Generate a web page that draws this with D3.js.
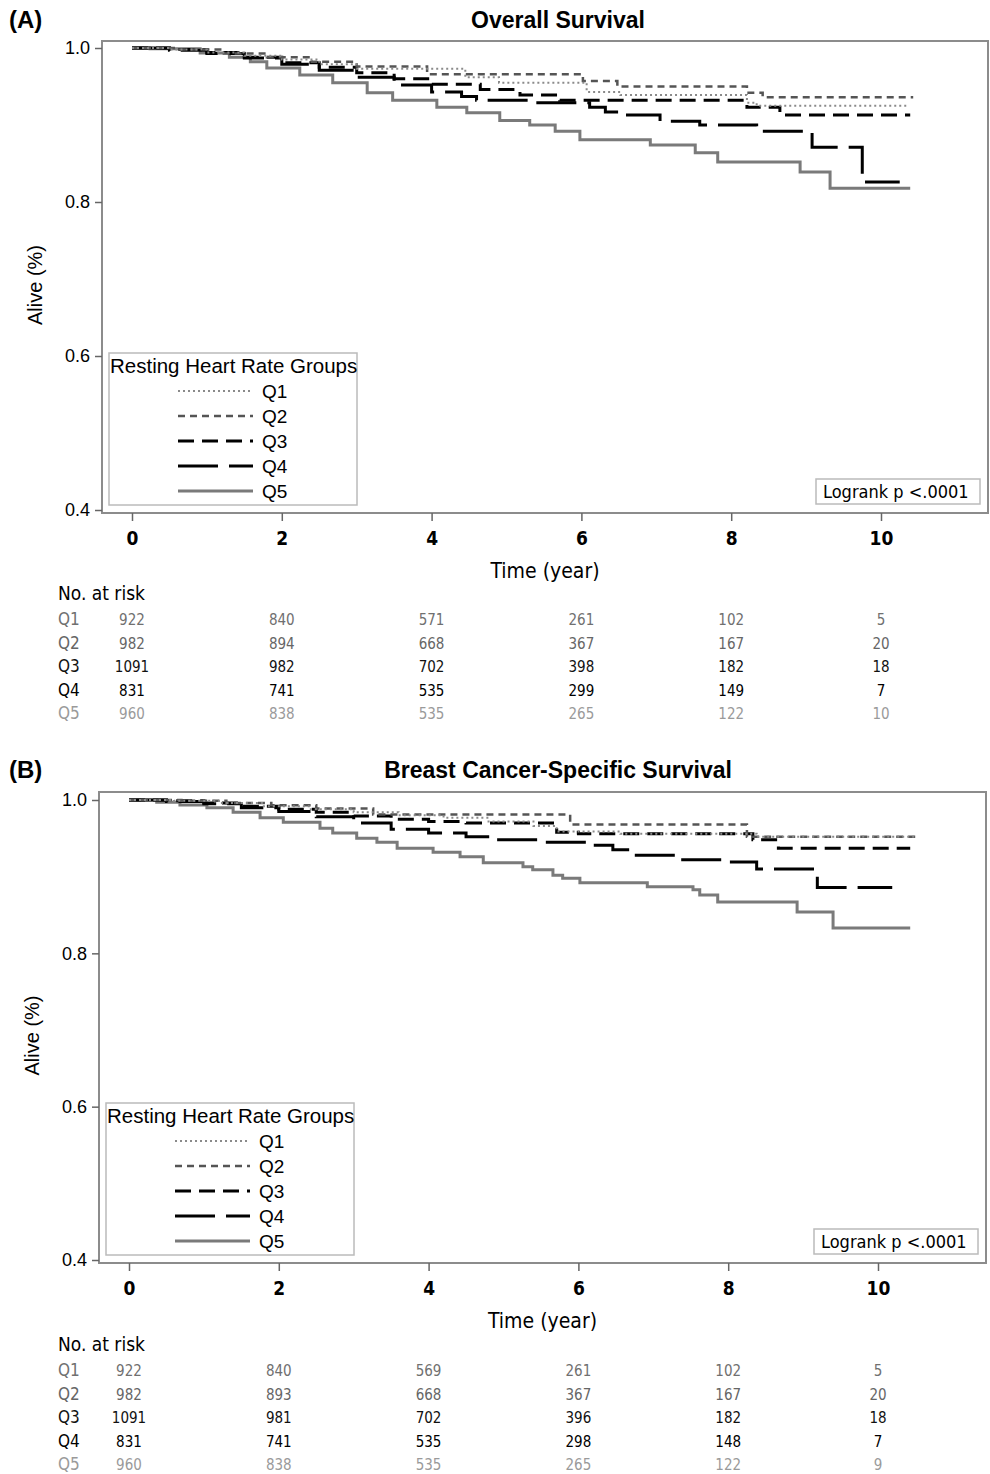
<!DOCTYPE html>
<html>
<head>
<meta charset="utf-8">
<script src="https://cdn.jsdelivr.net/npm/d3@7"></script>
<style>
  body { margin: 0; background: #fff; }
  svg { display: block; font-family: Arial, "Liberation Sans", sans-serif; }
  .narrow { font-family: "Liberation Sans Narrow", "Arial Narrow", "DejaVu Sans Condensed", Arial, sans-serif; }
</style>
</head>
<body>
<div id="chart"></div>
<script>
// Kaplan-Meier steps: [time (year), survival]
const groups = ['Q1', 'Q2', 'Q3', 'Q4', 'Q5'];
const timeTicks = [0, 2, 4, 6, 8, 10];
const survTicks = [0.4, 0.6, 0.8, 1.0];

const osQ1 = [[0,1],[0.5,0.998],[1.0,0.994],[1.5,0.99],[2.0,0.985],[2.5,0.979],[3.0,0.973],[4.45,0.962],[4.9,0.955],[6.07,0.943],[6.52,0.939],[8.21,0.929],[8.34,0.925],[10.35,0.925]];
const osQ2 = [[0,1],[0.6,0.998],[1.2,0.993],[1.8,0.988],[2.4,0.982],[3.0,0.976],[3.94,0.966],[6.02,0.957],[6.48,0.95],[8.21,0.942],[8.42,0.936],[10.43,0.936]];
const osQ3 = [[0,1],[0.5,0.998],[1.0,0.994],[1.5,0.988],[2.0,0.981],[2.5,0.975],[3.0,0.968],[3.5,0.96],[4.0,0.953],[4.65,0.946],[5.18,0.939],[5.71,0.932],[8.21,0.923],[8.65,0.913],[10.39,0.913]];
const osQ4 = [[0,1],[0.5,0.997],[1.0,0.993],[1.5,0.987],[2.0,0.979],[2.5,0.971],[3.0,0.962],[3.5,0.952],[4.0,0.943],[4.4,0.937],[4.6,0.932],[5.35,0.929],[6.11,0.923],[6.32,0.917],[6.58,0.913],[7.05,0.905],[7.58,0.9],[8.34,0.892],[9.08,0.871],[9.75,0.826],[10.25,0.826]];
const osQ5 = [[0,1],[0.24,0.999],[0.91,0.9935],[1.3,0.988],[1.58,0.982],[1.8,0.974],[2.24,0.965],[2.68,0.955],[3.14,0.942],[3.48,0.932],[4.07,0.923],[4.47,0.916],[4.91,0.906],[5.31,0.9],[5.65,0.892],[5.98,0.881],[6.92,0.874],[7.52,0.864],[7.82,0.852],[8.92,0.839],[9.32,0.818],[10.39,0.818]];

const bcQ1 = [[0,1],[0.6,0.999],[1.2,0.996],[1.8,0.992],[2.4,0.988],[3.0,0.984],[3.6,0.98],[4.2,0.977],[4.8,0.972],[5.4,0.966],[5.71,0.959],[6.56,0.956],[8.38,0.952],[10.52,0.952]];
const bcQ2 = [[0,1],[0.7,0.999],[1.3,0.996],[1.9,0.993],[2.5,0.989],[3.26,0.981],[5.89,0.968],[8.25,0.952],[10.52,0.952]];
const bcQ3 = [[0,1],[0.5,0.999],[1.0,0.996],[1.5,0.992],[2.0,0.988],[2.5,0.984],[3.0,0.979],[3.5,0.975],[4.0,0.972],[4.5,0.97],[5.71,0.958],[6.0,0.956],[8.33,0.948],[8.67,0.937],[10.43,0.937]];
const bcQ4 = [[0,1],[0.5,0.998],[1.0,0.995],[1.5,0.99],[2.0,0.985],[2.5,0.978],[3.0,0.97],[3.5,0.962],[4.0,0.957],[4.5,0.952],[4.86,0.948],[5.53,0.945],[6.15,0.941],[6.46,0.935],[6.73,0.928],[7.32,0.922],[7.93,0.919],[8.38,0.91],[9.19,0.886],[10.19,0.886]];
const bcQ5 = [[0,1],[0.37,0.997],[0.68,0.9935],[1.04,0.99],[1.39,0.984],[1.75,0.977],[2.06,0.971],[2.55,0.963],[2.72,0.957],[3.04,0.95],[3.31,0.945],[3.58,0.937],[4.06,0.932],[4.42,0.926],[4.73,0.918],[5.26,0.913],[5.39,0.909],[5.66,0.902],[5.79,0.898],[6.02,0.892],[6.92,0.887],[7.53,0.883],[7.62,0.876],[7.86,0.867],[8.92,0.854],[9.4,0.833],[10.43,0.833]];

// numbers at risk at times 0,2,4,6,8,10
const osRiskQ1 = [922, 840, 571, 261, 102, 5];
const osRiskQ2 = [982, 894, 668, 367, 167, 20];
const osRiskQ3 = [1091, 982, 702, 398, 182, 18];
const osRiskQ4 = [831, 741, 535, 299, 149, 7];
const osRiskQ5 = [960, 838, 535, 265, 122, 10];

const bcRiskQ1 = [922, 840, 569, 261, 102, 5];
const bcRiskQ2 = [982, 893, 668, 367, 167, 20];
const bcRiskQ3 = [1091, 981, 702, 396, 182, 18];
const bcRiskQ4 = [831, 741, 535, 298, 148, 7];
const bcRiskQ5 = [960, 838, 535, 265, 122, 9];

// line style per group
const styles = {
  Q1: { stroke: '#8a8a8a', width: 2, dash: '2,3' },
  Q2: { stroke: '#555', width: 2.5, dash: '7,5' },
  Q3: { stroke: '#000', width: 3, dash: '16,8' },
  Q4: { stroke: '#000', width: 3, dash: '40,11' },
  Q5: { stroke: '#7a7a7a', width: 3, dash: null }
};
const riskColors = { Q1: '#707070', Q2: '#666', Q3: '#111', Q4: '#000', Q5: '#9a9a9a' };

const svg = d3.select('#chart').append('svg')
  .attr('width', 990)
  .attr('height', 1474);

function drawPanel(p) {
  const x = d3.scaleLinear().domain([0, 10]).range([p.x0, p.x10]);
  const y = d3.scaleLinear().domain([0.4, 1.0]).range([p.y04, p.y10]);
  const g = svg.append('g');

  // panel label and title
  g.append('text').attr('x', 9).attr('y', p.titleY)
    .attr('font-size', 24).attr('font-weight', 'bold').text(p.label);
  g.append('text').attr('x', 558).attr('y', p.titleY)
    .attr('text-anchor', 'middle').attr('font-size', 23).attr('font-weight', 'bold').text(p.title);

  // frame
  g.append('rect')
    .attr('x', p.left).attr('y', p.top)
    .attr('width', p.right - p.left).attr('height', p.bottom - p.top)
    .attr('fill', 'none').attr('stroke', '#8c8c8c').attr('stroke-width', 2);

  // axes
  const yAxis = g.append('g').attr('transform', `translate(${p.left},0)`)
    .call(d3.axisLeft(y).tickValues(survTicks).tickFormat(d3.format('.1f')).tickSize(7).tickPadding(5));
  yAxis.select('.domain').remove();
  yAxis.selectAll('line').attr('stroke', '#666').attr('stroke-width', 1.5);
  yAxis.selectAll('text').attr('font-size', 18).attr('fill', '#000')
    .attr('font-family', 'Arial, "Liberation Sans", sans-serif');

  const xAxis = g.append('g').attr('transform', `translate(0,${p.bottom})`)
    .call(d3.axisBottom(x).tickValues(timeTicks).tickSize(8).tickPadding(11));
  xAxis.select('.domain').remove();
  xAxis.selectAll('line').attr('stroke', '#666').attr('stroke-width', 1.5);
  xAxis.selectAll('text').attr('class', 'narrow').attr('font-size', 19)
    .attr('font-weight', 'bold').attr('fill', '#000');

  g.append('text').attr('class', 'narrow')
    .attr('x', (p.left + p.right) / 2).attr('y', p.bottom + 65)
    .attr('text-anchor', 'middle').attr('font-size', 21).text('Time (year)');
  g.append('text')
    .attr('transform', `translate(${p.left - 60},${(p.top + p.bottom) / 2 + 8}) rotate(-90)`)
    .attr('text-anchor', 'middle').attr('font-size', 20).text('Alive (%)');

  // survival curves
  const line = d3.line()
    .x(d => x(d[0]))
    .y(d => y(d[1]))
    .curve(d3.curveStepAfter);
  const order = ['Q5', 'Q4', 'Q3', 'Q2', 'Q1'];
  order.forEach(q => {
    const s = styles[q];
    g.append('path')
      .datum(p.curves[q])
      .attr('d', line)
      .attr('fill', 'none')
      .attr('stroke', s.stroke)
      .attr('stroke-width', s.width)
      .attr('stroke-dasharray', s.dash);
  });

  // legend
  const lx = p.left + 7, lb = p.bottom - 8;
  const lg = g.append('g');
  lg.append('rect').attr('x', lx).attr('y', lb - 152).attr('width', 248).attr('height', 152)
    .attr('fill', '#fff').attr('stroke', '#bbb').attr('stroke-width', 1.5);
  lg.append('text').attr('x', lx + 1).attr('y', lb - 132).attr('font-size', 20.5)
    .text('Resting Heart Rate Groups');
  groups.forEach((q, i) => {
    const cy = lb - 114 + i * 25;
    const s = styles[q];
    lg.append('line').attr('x1', lx + 69).attr('x2', lx + 144).attr('y1', cy).attr('y2', cy)
      .attr('stroke', s.stroke).attr('stroke-width', s.width).attr('stroke-dasharray', s.dash);
    lg.append('text').attr('x', lx + 153).attr('y', cy + 7).attr('font-size', 19).text(q);
  });

  // logrank box
  g.append('rect').attr('x', p.right - 172).attr('y', p.bottom - 34).attr('width', 164).attr('height', 25)
    .attr('fill', '#fff').attr('stroke', '#bbb').attr('stroke-width', 1.5);
  g.append('text').attr('class', 'narrow').attr('x', p.right - 165).attr('y', p.bottom - 15)
    .attr('font-size', 18).text('Logrank p <.0001');

  // number at risk table
  g.append('text').attr('class', 'narrow').attr('x', 58).attr('y', p.riskTop + 7)
    .attr('font-size', 19).text('No. at risk');
  groups.forEach((q, i) => {
    const ry = p.riskTop + 32 + i * 23.5;
    g.append('text').attr('class', 'narrow').attr('x', 58).attr('y', ry)
      .attr('font-size', 17).attr('fill', riskColors[q]).text(q);
    g.selectAll(null).data(p.risk[q]).enter().append('text')
      .attr('class', 'narrow')
      .attr('x', (d, j) => x(timeTicks[j]))
      .attr('y', ry)
      .attr('text-anchor', 'middle')
      .attr('font-size', 15)
      .attr('fill', riskColors[q])
      .text(d => d);
  });
}

drawPanel({
  label: '(A)', title: 'Overall Survival', titleY: 28,
  left: 102, right: 988, top: 41, bottom: 513,
  x0: 132, x10: 881, y10: 48, y04: 510,
  riskTop: 593,
  curves: { Q1: osQ1, Q2: osQ2, Q3: osQ3, Q4: osQ4, Q5: osQ5 },
  risk: { Q1: osRiskQ1, Q2: osRiskQ2, Q3: osRiskQ3, Q4: osRiskQ4, Q5: osRiskQ5 }
});

drawPanel({
  label: '(B)', title: 'Breast Cancer-Specific Survival', titleY: 778,
  left: 99, right: 986, top: 792, bottom: 1263,
  x0: 129, x10: 878, y10: 800, y04: 1260,
  riskTop: 1344,
  curves: { Q1: bcQ1, Q2: bcQ2, Q3: bcQ3, Q4: bcQ4, Q5: bcQ5 },
  risk: { Q1: bcRiskQ1, Q2: bcRiskQ2, Q3: bcRiskQ3, Q4: bcRiskQ4, Q5: bcRiskQ5 }
});
</script>
</body>
</html>
